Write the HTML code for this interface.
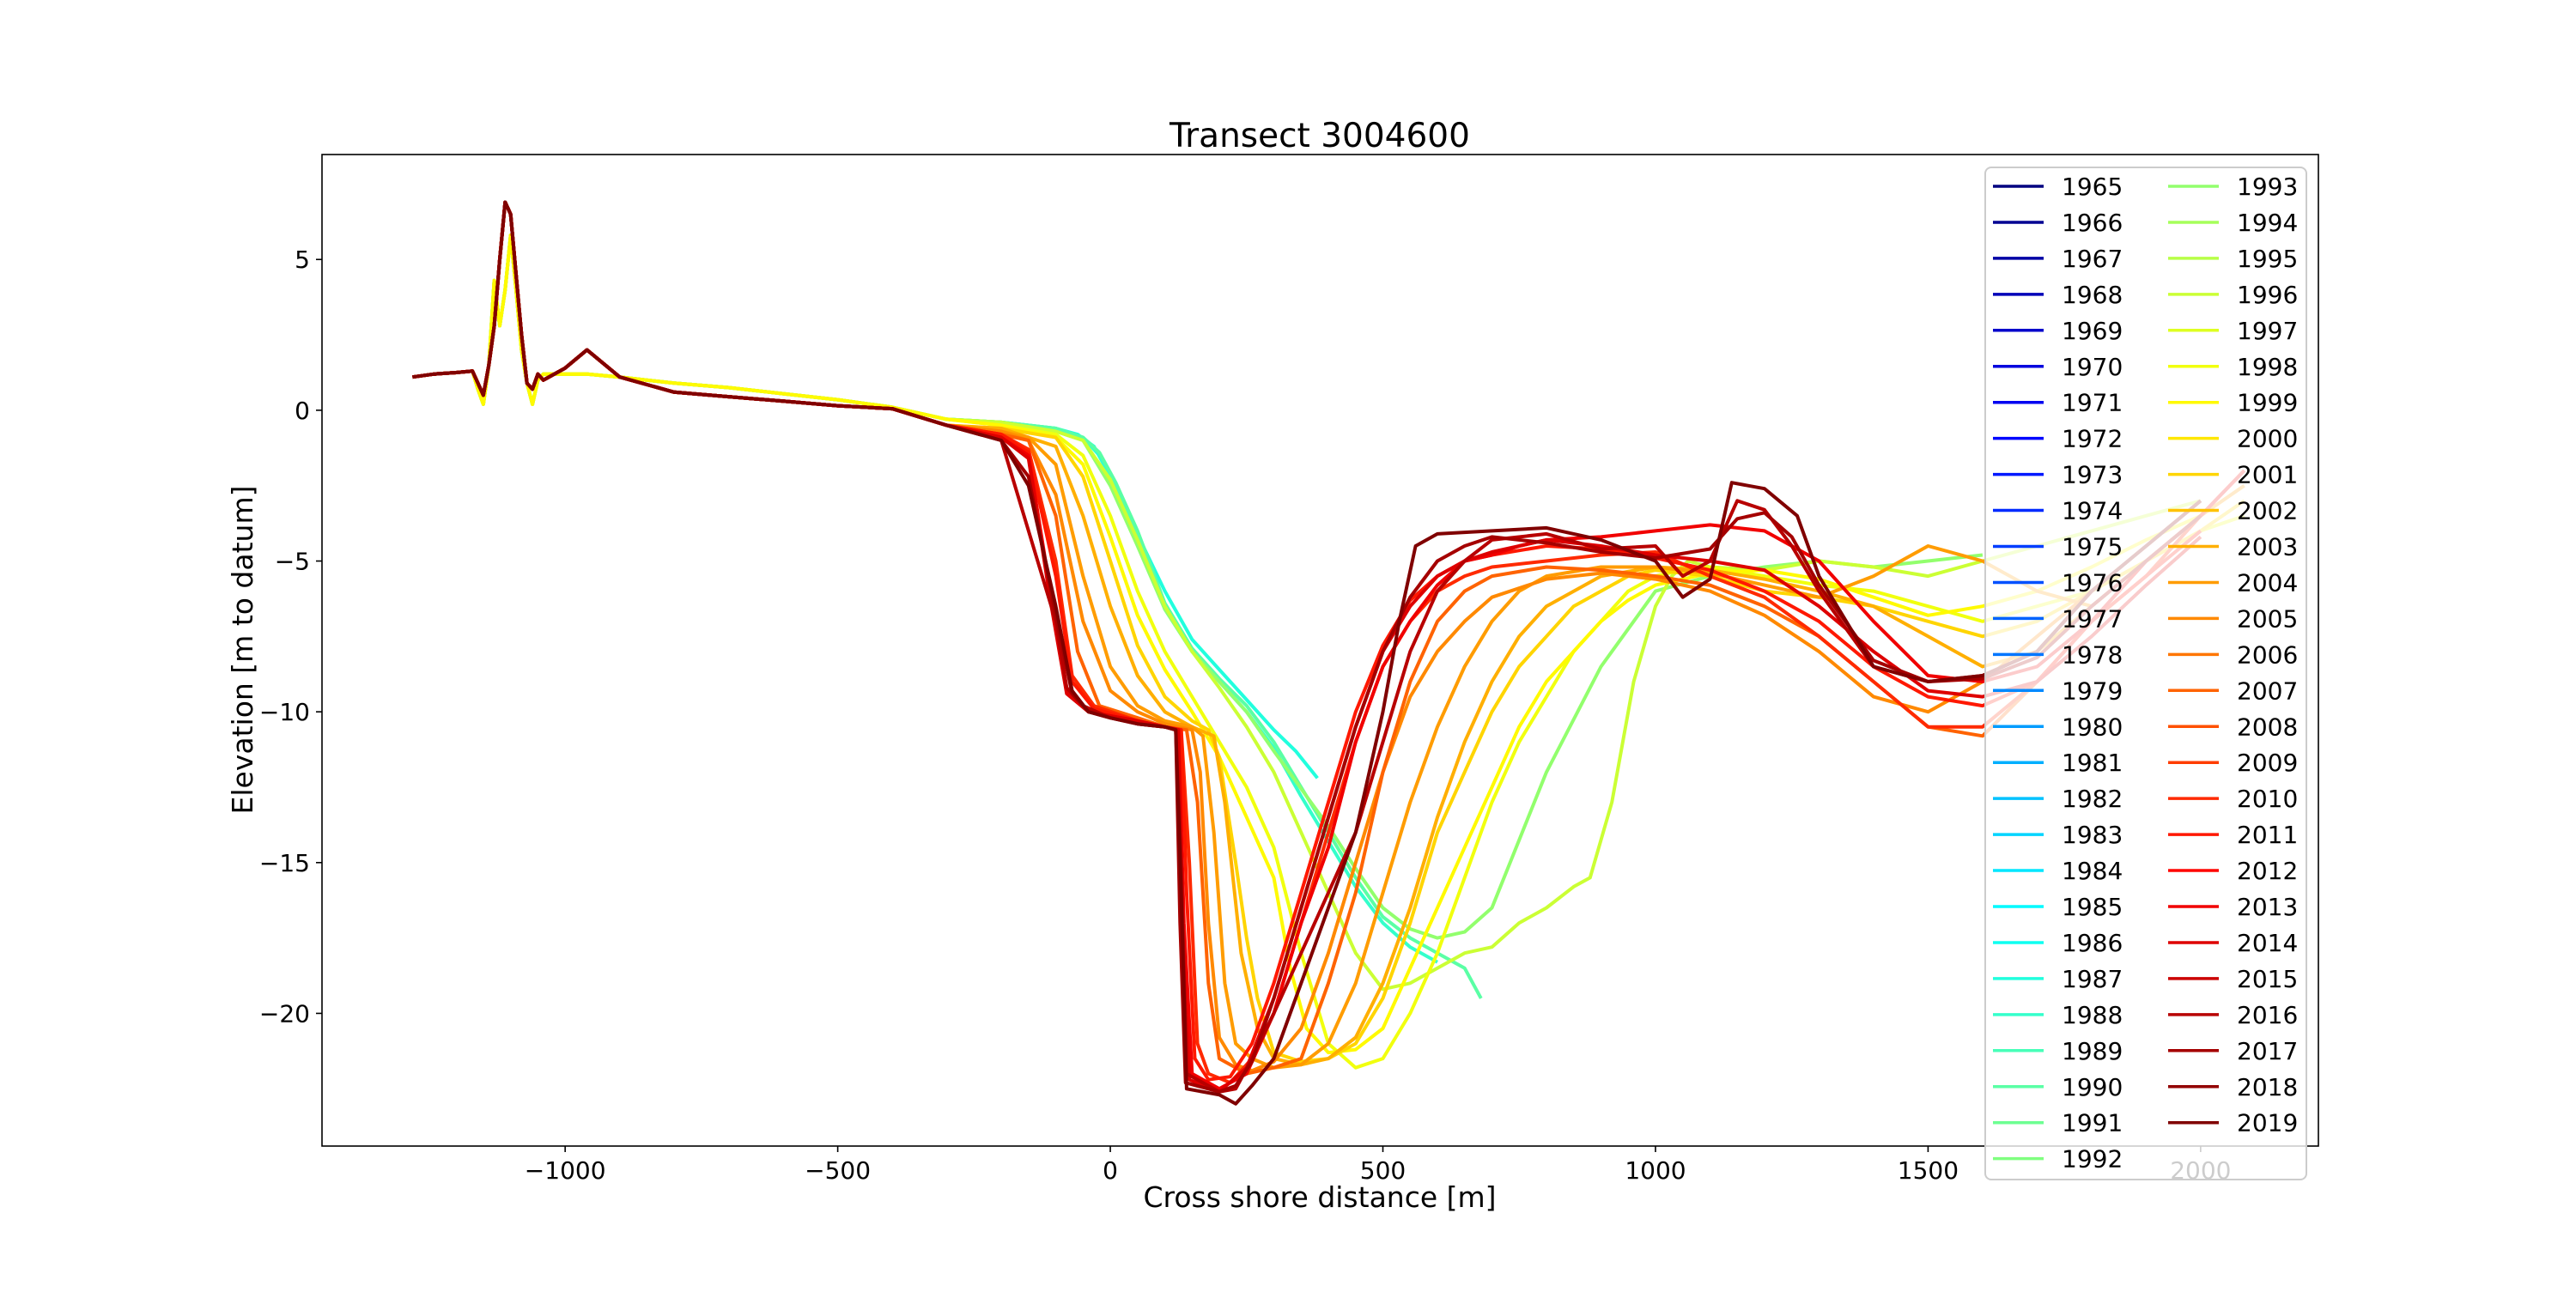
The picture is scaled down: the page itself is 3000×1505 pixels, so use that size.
<!DOCTYPE html>
<html><head><meta charset="utf-8"><style>
body{margin:0;background:#fff}
svg text{font-family:"DejaVu Sans","Liberation Sans",sans-serif}
</style></head><body>
<svg id="chart" width="3000" height="1500" xmlns="http://www.w3.org/2000/svg">
<text x="1537" y="171" font-size="39" text-anchor="middle">Transect 3004600</text>
<text x="1537" y="1406" font-size="33" text-anchor="middle">Cross shore distance [m]</text>
<text x="0" y="0" font-size="33" text-anchor="middle" transform="translate(294,757) rotate(-90)">Elevation [m to datum]</text>
<g id="plot"></g>
<g id="axes"></g>
<g id="legend"></g>
</svg>
<script>
const xTicks=[-1000,-500,0,500,1000,1500,2000];
const yTicks=[5,0,-5,-10,-15,-20];
const legendYears=[];for(let y=1965;y<=2019;y++)legendYears.push(y);
const landX=[-1280,-1240,-1200,-1170,-1160,-1150,-1140,-1130,-1120,-1110,-1100,-1090,-1080,-1070,-1060,-1050,-1040,-1000,-960,-900,-800,-700,-600,-500,-400,-300];
const landYRed=[1.1,1.2,1.25,1.3,0.9,0.5,1.5,2.8,5.0,6.9,6.5,4.5,2.5,0.9,0.7,1.2,1.0,1.4,2.0,1.1,0.6,0.45,0.3,0.15,0.05,-0.5];
const landYGreen=[1.1,1.2,1.25,1.3,0.7,0.2,1.5,4.3,2.8,4.0,5.8,4.0,2.0,0.9,0.2,1.0,1.2,1.2,1.2,1.1,0.9,0.75,0.55,0.35,0.1,-0.3];
const seriesYears=[1987,1988,1990,1993,1996,1998,1999,2001,2003,2004,2005,2007,2010,2011,2013,2014,2016,2017,2019];
const seriesLand=['g','g','g','g','g','g','g','r','r','r','r','r','r','r','r','r','r','r','r'];
const seaX=[
[-200,-100,-60,-30,0,30,60,100,150,200,250,300,340,380],
[-200,-100,-50,-20,10,50,100,150,200,250,300,350,400,450,500,550,600],
[-200,-100,-50,-20,10,50,100,150,200,250,300,350,400,450,500,550,600,650,680],
[-200,-100,-50,0,50,100,150,200,250,300,400,450,500,550,600,650,700,800,900,1000,1100,1200,1300,1400,1500,1600],
[-200,-100,-50,0,50,100,150,200,250,300,350,400,450,500,550,600,650,700,750,800,850,880,920,960,1000,1030,1060,1100,1200,1300,1400,1500,1600,1700,1800,1900,2000],
[-200,-100,-50,0,50,100,150,200,250,300,350,400,450,500,550,600,650,700,750,800,850,900,950,1000,1050,1100,1200,1300,1400,1500,1600,1700,1800,1900,2000,2080],
[-200,-100,-50,0,50,100,150,200,250,300,330,360,400,450,500,550,600,650,700,750,800,850,900,950,1000,1100,1200,1300,1400,1500,1600,1700,1800,1900,2000],
[-200,-100,-50,0,50,100,150,180,200,230,250,270,300,350,400,450,500,550,600,650,700,750,800,850,900,950,1000,1100,1200,1300,1400,1500,1600,1700,1800,1900,2000,2080],
[-200,-100,-50,0,50,100,150,190,210,240,270,300,350,400,450,500,550,600,650,700,750,800,900,1000,1100,1200,1300,1400,1500,1600,1700,1800,1900,2000],
[-200,-150,-100,-50,0,50,100,150,170,190,210,230,260,300,350,400,450,500,550,600,650,700,750,800,900,1000,1100,1200,1300,1400,1500,1600,1700,1800,1900,2000,2080],
[-200,-150,-100,-50,0,50,100,150,165,180,200,230,260,300,350,400,450,500,550,600,650,700,800,900,1000,1100,1200,1300,1400,1500,1600,1700,1800,1900,2000],
[-200,-150,-100,-60,-20,50,100,140,160,180,200,250,300,350,400,450,500,550,600,650,700,800,900,1000,1100,1200,1300,1400,1500,1600,1700,1800,1900,2000,2080],
[-200,-150,-100,-70,-30,50,100,130,145,160,180,220,260,300,350,400,450,500,550,600,650,700,800,900,1000,1100,1200,1300,1400,1500,1600,1700,1800,1900,2000,2080],
[-200,-150,-100,-70,-30,50,100,130,140,155,180,220,260,300,350,400,450,500,550,600,650,700,800,900,1000,1100,1200,1300,1400,1500,1600,1700,1800,1900,2000],
[-200,-150,-110,-80,-40,50,100,125,135,150,200,250,300,350,400,450,500,550,600,650,700,750,800,900,1000,1100,1200,1300,1400,1500,1600,1700,1800,1900,2000,2080],
[-200,-150,-110,-80,-40,50,100,125,132,145,200,250,300,350,400,450,500,550,600,650,700,800,900,1000,1100,1200,1300,1400,1500,1600,1700,1800,1900,2000],
[-200,-100,-80,-50,0,50,100,120,130,140,200,230,260,300,350,400,450,500,550,600,650,700,800,900,1000,1050,1100,1150,1200,1250,1300,1400,1500,1600,1700,1800,1900,2000],
[-200,-150,-100,-70,-40,0,50,100,120,128,138,200,230,260,300,350,400,450,500,550,600,650,700,800,900,1000,1100,1150,1200,1250,1300,1400,1500,1600,1700,1800,1900,2000],
[-200,-150,-100,-70,-40,0,50,100,120,130,140,200,230,260,300,350,400,450,500,530,560,600,700,800,900,1000,1050,1100,1140,1200,1260,1300,1400,1500,1600,1700,1800,1900,2000]];
const seaY=[
[-0.4,-0.6,-0.8,-1.2,-2.2,-3.5,-4.5,-6.0,-7.6,-8.6,-9.6,-10.6,-11.3,-12.2],
[-0.4,-0.6,-0.9,-1.5,-2.6,-4.2,-6.6,-8.0,-9.0,-10.0,-11.2,-12.8,-14.3,-15.8,-17.0,-17.8,-18.3],
[-0.4,-0.6,-0.9,-1.4,-2.4,-4.0,-6.4,-7.9,-8.9,-9.8,-11,-12.5,-14,-15.5,-16.8,-17.5,-18,-18.5,-19.5],
[-0.4,-0.7,-1.0,-2.5,-4.5,-6.6,-8.0,-9.0,-10,-11.3,-13.8,-15.2,-16.5,-17.2,-17.5,-17.3,-16.5,-12,-8.5,-6.0,-5.5,-5.2,-5.0,-5.2,-5.0,-4.8],
[-0.4,-0.7,-1.0,-2.3,-4.3,-6.5,-8.0,-9.2,-10.5,-12,-14,-16,-18,-19.2,-19,-18.5,-18,-17.8,-17,-16.5,-15.8,-15.5,-13,-9,-6.5,-5.5,-5.0,-5.2,-5.3,-5.0,-5.2,-5.5,-5.0,-4.5,-4,-3.5,-3],
[-0.5,-0.8,-1.5,-3.5,-6.0,-8.0,-9.5,-11,-12.5,-14.5,-18,-21,-21.8,-21.5,-20,-18,-15.5,-13,-11,-9.5,-8,-7,-6,-5.5,-5.3,-5.2,-5.5,-5.8,-6,-6.5,-7,-6.5,-6,-5,-4,-3.5],
[-0.5,-0.9,-1.8,-4.2,-6.8,-8.6,-10.0,-11.5,-13.5,-15.5,-18.5,-20.5,-21.3,-21.2,-20.5,-18.5,-16.5,-14.5,-12.5,-10.5,-9,-8,-7,-6.3,-5.8,-5.4,-5.3,-5.6,-6.2,-6.8,-6.5,-6,-5.2,-4.3,-3.5],
[-0.6,-0.9,-2.2,-5,-7.8,-9.5,-10.3,-10.6,-11.5,-15,-17.5,-19.5,-21.3,-21.6,-21.5,-21,-19.5,-17,-14,-12,-10,-8.5,-7.5,-6.5,-6,-5.5,-5.3,-5.5,-6,-6.2,-6.5,-7,-7.5,-7,-6,-5,-4,-3],
[-0.6,-1.2,-3.5,-6.5,-8.8,-10.0,-10.5,-10.8,-13,-18,-20.5,-21.5,-21.7,-21.5,-20.8,-19,-16.5,-13.5,-11,-9,-7.5,-6.5,-5.5,-5.2,-5.3,-5.6,-6.0,-6.5,-7.5,-8.5,-8.0,-6.5,-5,-3.5],
[-0.7,-0.9,-1.8,-5.5,-8.5,-9.8,-10.3,-10.5,-10.8,-14,-19,-21,-21.5,-21.8,-21.7,-21,-19,-16,-13,-10.5,-8.5,-7,-6,-5.5,-5.2,-5.2,-5.4,-5.8,-6.2,-5.5,-4.5,-5,-6,-6.5,-5,-3.5,-2.5],
[-0.7,-1.0,-2.8,-7.0,-9.3,-10.0,-10.4,-10.6,-12,-17,-20.8,-21.7,-21.9,-21.6,-20.5,-18,-15,-12,-9.5,-8,-7,-6.2,-5.6,-5.4,-5.6,-6.0,-6.8,-8,-9.5,-10,-9,-7.5,-6,-4.5,-3],
[-0.8,-1.0,-3.5,-8,-9.8,-10.2,-10.5,-10.6,-13,-19,-21.5,-22,-21.8,-21.5,-19,-16,-12,-9,-7,-6,-5.5,-5.2,-5.3,-5.5,-5.8,-6.5,-7.5,-9,-10.5,-10.8,-9,-7,-5,-3.5,-2],
[-0.8,-1.3,-5,-8.8,-9.8,-10.3,-10.5,-10.6,-15,-21,-22,-22.3,-21.5,-20,-17,-14,-11,-8.5,-7,-6,-5.5,-5.2,-5.0,-4.8,-4.7,-5.5,-6.2,-7.5,-9,-10.5,-10.5,-9,-7,-5.5,-3.5,-2],
[-0.8,-1.4,-5.5,-9.0,-9.9,-10.3,-10.5,-10.6,-16,-21.5,-22.2,-22.1,-21,-19,-16,-13,-10,-7.8,-6.3,-5.5,-5,-4.8,-4.5,-4.6,-4.9,-5.3,-6,-7,-8.5,-9.5,-9.8,-9,-7,-5.5,-4],
[-0.9,-1.5,-6,-9.3,-10,-10.3,-10.5,-10.6,-17,-22,-22.5,-22,-20,-17,-14.5,-11,-8.5,-7,-5.8,-5,-4.8,-4.5,-4.3,-4.2,-4.0,-3.8,-4.0,-5,-7,-8.8,-9,-8.5,-7,-5,-3.5,-2],
[-0.9,-1.6,-6.3,-9.4,-10,-10.3,-10.5,-10.6,-18,-22.2,-22.6,-21.8,-19.5,-16.5,-13.5,-10.5,-8,-6.5,-5.5,-5,-4.7,-4.3,-4.5,-4.8,-5.0,-5.3,-6.5,-8,-9.3,-9.5,-9,-7.5,-5.8,-4.2],
[-1.0,-7,-9.2,-9.8,-10.2,-10.4,-10.5,-10.6,-15,-22,-22.6,-22.5,-21.5,-20,-18,-16,-14,-11,-8,-6,-5,-4.3,-4.1,-4.6,-4.5,-5.5,-5.0,-3.0,-3.3,-4.5,-6,-8.5,-9,-8.8,-8,-6,-4.5,-3],
[-1.0,-2.2,-6.8,-9.4,-10,-10.2,-10.4,-10.5,-10.6,-17,-22.3,-22.6,-22.4,-21.6,-19.5,-16.5,-13.5,-10.5,-8,-6.2,-5,-4.5,-4.2,-4.4,-4.7,-4.9,-4.6,-3.6,-3.4,-4.2,-5.8,-8.3,-9,-8.9,-8.2,-6.5,-5,-3.5],
[-1.0,-2.5,-6.5,-9.3,-10,-10.2,-10.4,-10.5,-10.6,-16,-22.5,-22.7,-23,-22.4,-21.5,-19,-16.5,-14,-10,-7,-4.5,-4.1,-4.0,-3.9,-4.3,-5.0,-6.2,-5.6,-2.4,-2.6,-3.5,-5.5,-8.5,-9,-8.8,-8,-6,-4.5,-3]];

const L=375,R=2700,T=180,B=1335,XMIN=-1446,XMAX=2216,YMIN=-24.4,YMAX=8.48;
const sx=v=>L+(v-XMIN)/(XMAX-XMIN)*(R-L);
const sy=v=>B-(v-YMIN)/(YMAX-YMIN)*(B-T);
function jet(t){const c=x=>Math.round(255*Math.max(0,Math.min(1,x)));
return `rgb(${c(1.5-Math.abs(4*t-3))},${c(1.5-Math.abs(4*t-2))},${c(1.5-Math.abs(4*t-1))})`;}
const colorOf=y=>jet((y-1965)/(2019-1965));
const NS='http://www.w3.org/2000/svg';
function mk(tag,attrs,parent){const e=document.createElementNS(NS,tag);for(const k in attrs)e.setAttribute(k,attrs[k]);parent.appendChild(e);return e;}
const plot=document.getElementById('plot'),axes=document.getElementById('axes'),leg=document.getElementById('legend');
const defs=mk('defs',{},plot);const cp=mk('clipPath',{id:'clip'},defs);mk('rect',{x:L,y:T,width:R-L,height:B-T},cp);
plot.setAttribute('clip-path','url(#clip)');
seriesYears.forEach((yr,i)=>{
  const ly=seriesLand[i]==='g'?landYGreen:landYRed;
  const xs=landX.concat(seaX[i]),ys=ly.concat(seaY[i]);
  const d=xs.map((x,j)=>(j?'L':'M')+sx(x).toFixed(1)+','+sy(ys[j]).toFixed(1)).join('');
  const p=mk('path',{d:d,fill:'none',stroke:colorOf(yr),'stroke-width':4,'stroke-linejoin':'round'},plot);
  
  
});
const fr=mk('rect',{x:L,y:T,width:R-L,height:B-T,fill:'none',stroke:'#000','stroke-width':1.6},axes);


xTicks.forEach(v=>{const x=sx(v);
  mk('line',{x1:x,x2:x,y1:B,y2:B+7,stroke:'#000','stroke-width':1.6},axes);
  const t=mk('text',{x:x,y:B+38,'font-size':28,'text-anchor':'middle'},axes);t.textContent=String(v).replace('-','\u2212');
  
  });
yTicks.forEach(v=>{const y=sy(v);
  mk('line',{x1:L-7,x2:L,y1:y,y2:y,stroke:'#000','stroke-width':1.6},axes);
  const t=mk('text',{x:L-14,y:y+10,'font-size':28,'text-anchor':'end'},axes);t.textContent=String(v).replace('-','\u2212');
  
  });
const lb=mk('rect',{x:2312,y:195,width:374,height:1179,rx:7,fill:'#fff','fill-opacity':0.8,stroke:'#ccc','stroke-width':2},leg);


legendYears.forEach((yr,i)=>{const col=i<28?0:1,row=i<28?i:i-28;
  const x0=col?2525:2321,y=217+row*41.95;
  const g=mk('g',{},leg);
  
  
  mk('line',{x1:x0,x2:x0+59,y1:y,y2:y,stroke:colorOf(yr),'stroke-width':3.5},g);
  const t=mk('text',{x:x0+80,y:y+10,'font-size':28},g);t.textContent=yr;});
</script>
</body></html>
